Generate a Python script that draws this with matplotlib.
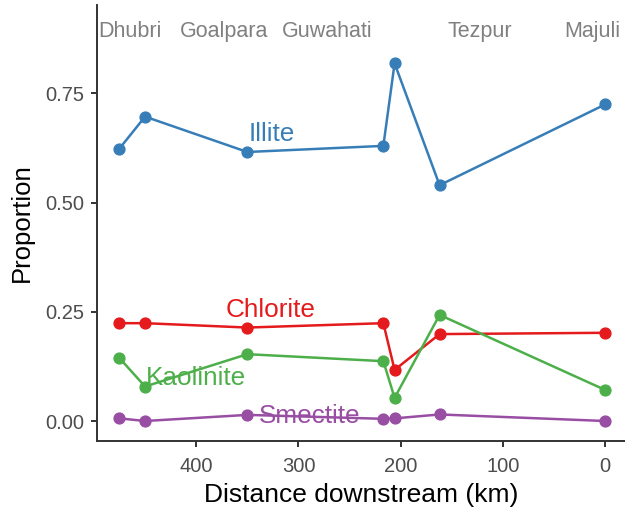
import matplotlib
matplotlib.use("Agg")
import matplotlib.pyplot as plt

plt.rcParams['font.family'] = ['Liberation Sans', 'DejaVu Sans']

# distance downstream of each sampling site (km)
distance = [475, 450, 350, 217, 206, 162, 0]

illite = [0.624, 0.697, 0.616, 0.630, 0.819, 0.540, 0.725]
chlorite = [0.224, 0.224, 0.214, 0.224, 0.117, 0.199, 0.202]
kaolinite = [0.144, 0.079, 0.153, 0.137, 0.053, 0.243, 0.071]
smectite = [0.006, 0.0, 0.014, 0.005, 0.006, 0.015, 0.0]

minerals = ["Illite", "Chlorite", "Kaolinite", "Smectite"]
colors = ["#377EB8", "#E41A1C", "#4DAF4A", "#984EA3"]
label_x = [326, 327, 400, 289]
label_y = [0.642, 0.239, 0.082, -0.005]

towns = ["Dhubri", "Goalpara", "Guwahati", "Tezpur", "Majuli"]
town_x = [465, 373, 272, 123, 13]
town_y = 0.880

fig = plt.figure(figsize=(6.25, 5.09), dpi=100)
ax = fig.add_axes([97 / 625, 1 - 440.7 / 509, 1 - 97 / 625, (440.7 - 5) / 509])

series = [illite, chlorite, kaolinite, smectite]
for vals, name, col, lx, ly in zip(series, minerals, colors, label_x, label_y):
    ax.plot(distance, vals, color=col, lw=1.8, marker="o", ms=7.8, zorder=2)
    ax.text(lx, ly, name, color=col, fontsize=18.8, ha="center", va="baseline", zorder=3)

for t, tx in zip(towns, town_x):
    ax.text(tx, town_y, t, color="#808080", fontsize=15.5, ha="center", va="baseline")

ax.set_xlim(497, -19.3)
ax.set_ylim(-0.0451, 0.9526)
ax.set_xticks([400, 300, 200, 100, 0])
ax.set_yticks([0, 0.25, 0.5, 0.75])
ax.set_yticklabels(["0.00", "0.25", "0.50", "0.75"])

for side in ["top", "right"]:
    ax.spines[side].set_visible(False)
for side in ["left", "bottom"]:
    ax.spines[side].set_linewidth(1.4)
    ax.spines[side].set_color("#333333")

ax.tick_params(axis="both", length=4.5, width=1.4, color="#333333",
               labelsize=14.5, labelcolor="#4D4D4D", pad=5)
ax.tick_params(axis="x", pad=7)

ax.set_xlabel("Distance downstream (km)", fontsize=19, labelpad=5)
ax.set_ylabel("Proportion", fontsize=18.5, labelpad=8)

fig.savefig("out.png", dpi=100)
